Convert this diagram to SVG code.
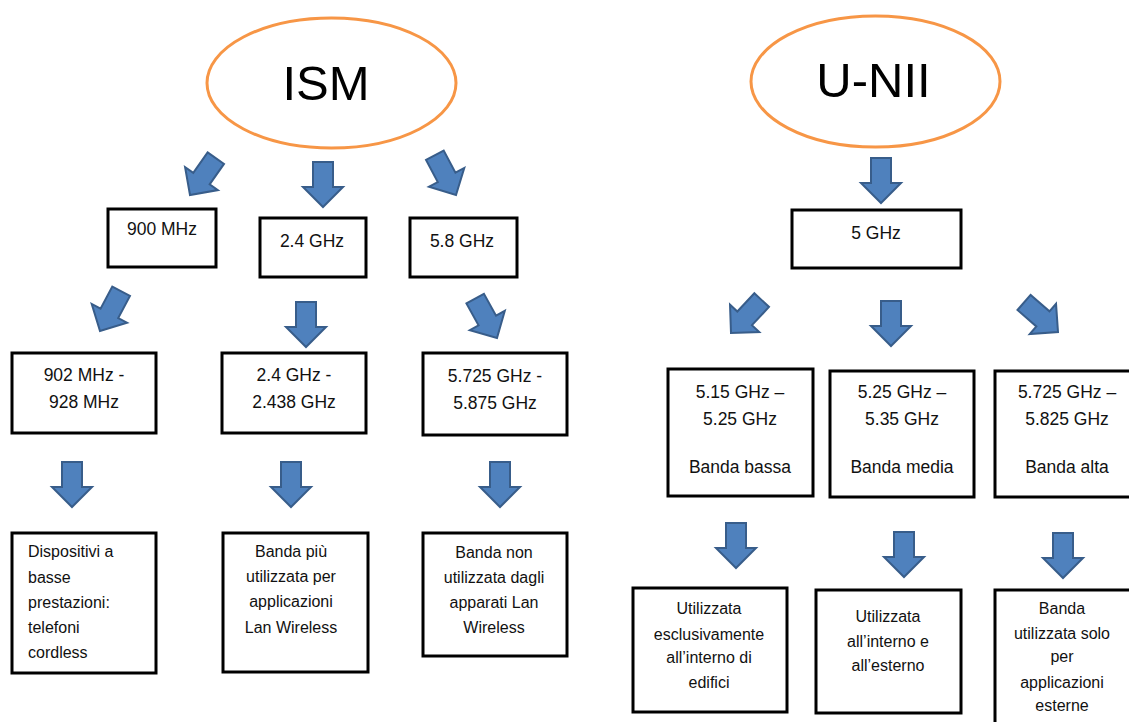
<svg xmlns="http://www.w3.org/2000/svg" xmlns:xlink="http://www.w3.org/1999/xlink" width="1129" height="722" viewBox="0 0 1129 722">
<style>
.bg{fill:#ffffff}
.ell{fill:#ffffff;stroke:#F79646;stroke-width:3}
.box{fill:#ffffff;stroke:#000000;stroke-width:3}
.arr{fill:#4F81BD;stroke:#385D8A;stroke-width:2;stroke-linejoin:miter}
.big{font-family:"Liberation Sans",Arial,sans-serif;font-size:49px;fill:#000;text-anchor:middle}
.t{font-family:"Liberation Sans",Arial,sans-serif;font-size:17.5px;fill:#111;text-anchor:middle}
.s{font-family:"Liberation Sans",Arial,sans-serif;font-size:16px;fill:#111;text-anchor:middle}
.sl{font-family:"Liberation Sans",Arial,sans-serif;font-size:16px;fill:#111}
</style>
<defs>
<path id="arrow" class="arr" d="M-10,-45 L10,-45 L10,-20 L20,-20 L0,0 L-20,-20 L-10,-20 Z"/>
</defs>
<rect class="bg" x="0" y="0" width="1129" height="722"/>

<g id="connectors">
<use xlink:href="#arrow" href="#arrow" transform="translate(190,195) rotate(35)"/>
<use xlink:href="#arrow" href="#arrow" transform="translate(323,207)"/>
<use xlink:href="#arrow" href="#arrow" transform="translate(456,195) rotate(-28)"/>
<use xlink:href="#arrow" href="#arrow" transform="translate(100,331) rotate(28)"/>
<use xlink:href="#arrow" href="#arrow" transform="translate(306,347)"/>
<use xlink:href="#arrow" href="#arrow" transform="translate(497,338) rotate(-29)"/>
<use xlink:href="#arrow" href="#arrow" transform="translate(72,507)"/>
<use xlink:href="#arrow" href="#arrow" transform="translate(291,507)"/>
<use xlink:href="#arrow" href="#arrow" transform="translate(500,507)"/>
<use xlink:href="#arrow" href="#arrow" transform="translate(881,203)"/>
<use xlink:href="#arrow" href="#arrow" transform="translate(731,333) rotate(43)"/>
<use xlink:href="#arrow" href="#arrow" transform="translate(891,346)"/>
<use xlink:href="#arrow" href="#arrow" transform="translate(1058,332) rotate(-49)"/>
<use xlink:href="#arrow" href="#arrow" transform="translate(736,568)"/>
<use xlink:href="#arrow" href="#arrow" transform="translate(904,577)"/>
<use xlink:href="#arrow" href="#arrow" transform="translate(1063,578)"/>
</g>

<g id="ism">
<ellipse class="ell" cx="331.5" cy="83" rx="124.5" ry="65"/>
<text class="big" x="326" y="100">ISM</text>
</g>
<g id="unii">
<ellipse class="ell" cx="875.5" cy="81.5" rx="124.5" ry="65.5"/>
<text class="big" x="873.5" y="97">U-NII</text>
</g>

<g id="n900">
<rect class="box" x="108" y="209" width="108" height="58"/>
<text class="t" x="162" y="235">900 MHz</text>
</g>
<g id="n24">
<rect class="box" x="260" y="218" width="106" height="59"/>
<text class="t" x="312" y="247">2.4 GHz</text>
</g>
<g id="n58">
<rect class="box" x="410" y="218" width="107" height="59"/>
<text class="t" x="462" y="247">5.8 GHz</text>
</g>

<g id="n902">
<rect class="box" x="12" y="353" width="144" height="80"/>
<text class="t" x="84" y="381">902 MHz -</text>
<text class="t" x="84" y="408">928 MHz</text>
</g>
<g id="n2438">
<rect class="box" x="222" y="353" width="144" height="80"/>
<text class="t" x="294" y="381">2.4 GHz -</text>
<text class="t" x="294" y="408">2.438 GHz</text>
</g>
<g id="n5725">
<rect class="box" x="423" y="353" width="144" height="82"/>
<text class="t" x="495" y="382">5.725 GHz -</text>
<text class="t" x="495" y="409">5.875 GHz</text>
</g>

<g id="nDisp">
<rect class="box" x="12" y="533" width="144" height="140"/>
<text class="sl" x="28" y="557">Dispositivi a</text>
<text class="sl" x="28" y="583">basse</text>
<text class="sl" x="28" y="608">prestazioni:</text>
<text class="sl" x="28" y="633">telefoni</text>
<text class="sl" x="28" y="658">cordless</text>
</g>
<g id="nPiu">
<rect class="box" x="223" y="533" width="145" height="139"/>
<text class="s" x="291" y="557">Banda più</text>
<text class="s" x="291" y="582">utilizzata per</text>
<text class="s" x="291" y="607">applicazioni</text>
<text class="s" x="291" y="633">Lan Wireless</text>
</g>
<g id="nNon">
<rect class="box" x="423" y="533" width="144" height="123"/>
<text class="s" x="494" y="558">Banda non</text>
<text class="s" x="494" y="583">utilizzata dagli</text>
<text class="s" x="494" y="608">apparati Lan</text>
<text class="s" x="494" y="633">Wireless</text>
</g>

<g id="n5">
<rect class="box" x="792" y="210" width="169" height="58"/>
<text class="t" x="876" y="239">5 GHz</text>
</g>

<g id="nBassa">
<rect class="box" x="668" y="369" width="145" height="127"/>
<text class="t" x="740" y="398">5.15 GHz –</text>
<text class="t" x="740" y="425">5.25 GHz</text>
<text class="t" x="740" y="473">Banda bassa</text>
</g>
<g id="nMedia">
<rect class="box" x="830" y="371" width="144" height="126"/>
<text class="t" x="902" y="398">5.25 GHz –</text>
<text class="t" x="902" y="425">5.35 GHz</text>
<text class="t" x="902" y="473">Banda media</text>
</g>
<g id="nAlta">
<rect class="box" x="995" y="371" width="145" height="126"/>
<text class="t" x="1067" y="398">5.725 GHz –</text>
<text class="t" x="1067" y="425">5.825 GHz</text>
<text class="t" x="1067" y="473">Banda alta</text>
</g>

<g id="nEdifici">
<rect class="box" x="633" y="588" width="154" height="124"/>
<text class="s" x="709" y="614">Utilizzata</text>
<text class="s" x="709" y="640">esclusivamente</text>
<text class="s" x="709" y="663">all’interno di</text>
<text class="s" x="709" y="688">edifici</text>
</g>
<g id="nInterno">
<rect class="box" x="816" y="590" width="145" height="123"/>
<text class="s" x="888" y="622">Utilizzata</text>
<text class="s" x="888" y="647">all’interno e</text>
<text class="s" x="888" y="671">all’esterno</text>
</g>
<g id="nEsterne">
<rect class="box" x="995" y="590" width="145" height="140"/>
<text class="s" x="1062" y="614">Banda</text>
<text class="s" x="1062" y="639">utilizzata solo</text>
<text class="s" x="1062" y="662">per</text>
<text class="s" x="1062" y="688">applicazioni</text>
<text class="s" x="1062" y="711">esterne</text>
</g>
</svg>
